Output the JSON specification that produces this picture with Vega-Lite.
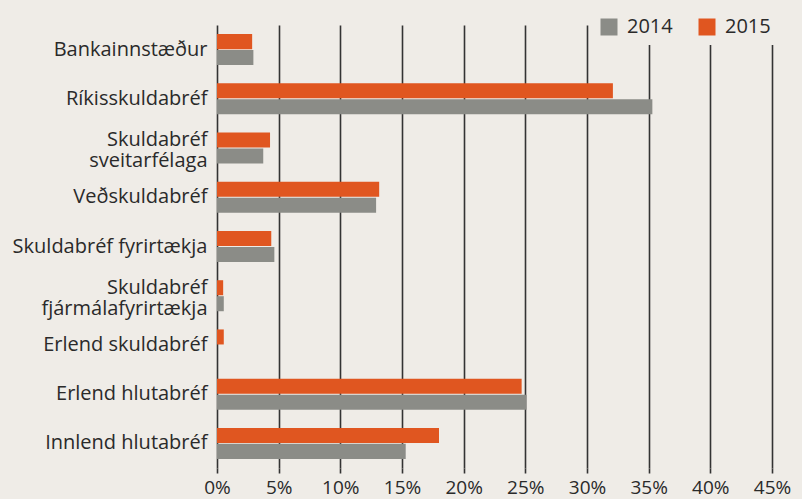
{
  "$schema": "https://vega.github.io/schema/vega-lite/v6.json",
  "autosize": "none",
  "width": 555,
  "height": 443,
  "padding": {"left": 217, "top": 25, "right": 30, "bottom": 31},
  "background": "#EFECE7",
  "config": {
    "view": {"stroke": null},
    "font": "Open Sans",
    "text": {"color": "#2a2a2a"}
  },
  "data": {
    "values": [
      {"category": "Bankainnstæður", "year": "2015", "value": 2.85},
      {"category": "Bankainnstæður", "year": "2014", "value": 2.95},
      {"category": "Ríkisskuldabréf", "year": "2015", "value": 32.1},
      {"category": "Ríkisskuldabréf", "year": "2014", "value": 35.3},
      {"category": "Skuldabréf sveitarfélaga", "year": "2015", "value": 4.3},
      {"category": "Skuldabréf sveitarfélaga", "year": "2014", "value": 3.75},
      {"category": "Veðskuldabréf", "year": "2015", "value": 13.15},
      {"category": "Veðskuldabréf", "year": "2014", "value": 12.9},
      {"category": "Skuldabréf fyrirtækja", "year": "2015", "value": 4.4},
      {"category": "Skuldabréf fyrirtækja", "year": "2014", "value": 4.65},
      {"category": "Skuldabréf fjármálafyrirtækja", "year": "2015", "value": 0.5},
      {"category": "Skuldabréf fjármálafyrirtækja", "year": "2014", "value": 0.55},
      {"category": "Erlend skuldabréf", "year": "2015", "value": 0.55},
      {"category": "Erlend skuldabréf", "year": "2014", "value": 0},
      {"category": "Erlend hlutabréf", "year": "2015", "value": 24.7},
      {"category": "Erlend hlutabréf", "year": "2014", "value": 25.1},
      {"category": "Innlend hlutabréf", "year": "2015", "value": 18.0},
      {"category": "Innlend hlutabréf", "year": "2014", "value": 15.3}
    ]
  },
  "mark": {"type": "bar"},
  "encoding": {
    "y": {
      "field": "category",
      "type": "nominal",
      "sort": null,
      "title": null,
      "scale": {"paddingInner": 0.37, "paddingOuter": 0.185},
      "axis": {
        "domain": false,
        "ticks": false,
        "grid": false,
        "labelFontSize": 20,
        "labelColor": "#2a2a2a",
        "labelPadding": 10,
        "labelLineHeight": 21,
        "labelLimit": 300,
        "labelOffset": {
          "condition": {"test": "datum.value == 'Skuldabréf sveitarfélaga' || datum.value == 'Skuldabréf fjármálafyrirtækja'", "value": -8},
          "value": 0
        },
        "labelExpr": "datum.label == 'Skuldabréf sveitarfélaga' ? ['Skuldabréf', 'sveitarfélaga'] : datum.label == 'Skuldabréf fjármálafyrirtækja' ? ['Skuldabréf', 'fjármálafyrirtækja'] : datum.label"
      }
    },
    "yOffset": {
      "field": "year",
      "type": "nominal",
      "sort": ["2015", "2014"],
      "scale": {"paddingInner": 0.06}
    },
    "x": {
      "field": "value",
      "type": "quantitative",
      "title": null,
      "scale": {"domain": [0, 45], "nice": false},
      "axis": {
        "values": [0, 5, 10, 15, 20, 25, 30, 35, 40, 45],
        "labelExpr": "datum.value + '%'",
        "domain": false,
        "grid": true,
        "gridColor": "#333333",
        "gridWidth": 1.6,
        "gridOpacity": 1,
        "ticks": true,
        "tickColor": "#333333",
        "tickWidth": 1.6,
        "tickSize": 5,
        "labelFontSize": 19,
        "labelColor": "#2a2a2a",
        "labelPadding": 5,
        "labelFlush": false
      }
    },
    "color": {
      "field": "year",
      "type": "nominal",
      "sort": ["2014", "2015"],
      "scale": {"domain": ["2014", "2015"], "range": ["#8B8C87", "#E05620"]},
      "legend": {
        "title": null,
        "orient": "none",
        "legendX": 374,
        "legendY": -16,
        "direction": "horizontal",
        "symbolType": "square",
        "symbolSize": 289,
        "symbolStrokeWidth": 0,
        "labelFontSize": 20,
        "labelColor": "#2a2a2a",
        "labelOffset": 8,
        "columnPadding": 24,
        "padding": 8,
        "fillColor": "#EFECE7"
      }
    }
  }
}
